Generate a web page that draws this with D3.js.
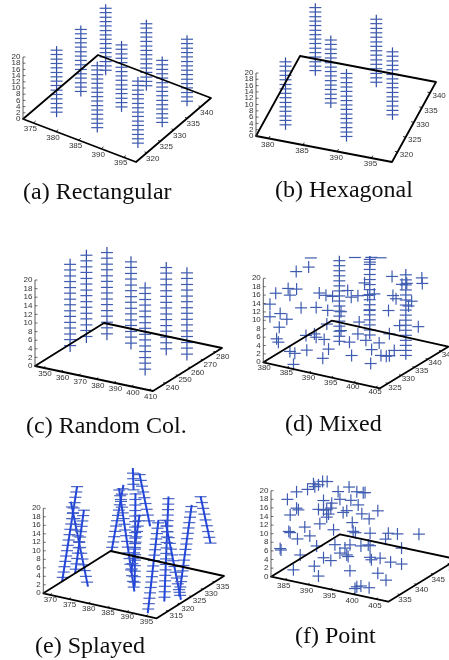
<!DOCTYPE html>
<html><head><meta charset="utf-8">
<script src="https://cdn.jsdelivr.net/npm/d3@7"></script>
<style>html,body{margin:0;padding:0;background:#fff;overflow:hidden}svg{display:block}</style>
</head><body><div id="chart"></div>
<script>
// ---------- data ----------
const zTicks = [0,2,4,6,8,10,12,14,16,18,20];

const rectXTicks = [375,380,385,390,395], rectYTicks = [320,325,330,335,340];
const rectColumns = [[377.5,320.4],[386.5,320.4],[395.5,320.4],[377.5,329.4],[386.5,329.4],[395.5,329.4],[377.5,338.6],[386.5,338.6],[395.5,338.6]];
const rectTop = 22.9;
const rectLevels = [1.6,3,4.4,5.9,7.3,8.7,10.2,11.6,13,14.4,15.9,17.3,18.7,20.2,21.6];

const hexXTicks = [380,385,390,395], hexYTicks = [320,325,330,335,340];
const hexColumns = [[381.6,320.2],[381.6,338.5],[386,329.5],[390.5,320.2],[390.5,338.5],[395,329.5]];
const hexTop = 23;
const hexLevels = [1.6,3,4.4,5.9,7.3,8.7,10.2,11.6,13,14.4,15.9,17.3,18.7,20.2,21.6];

const randXTicks = [350,360,370,380,390,400,410], randYTicks = [240,250,260,270,280];
const randColumns = [[350.7,250.4],[351.4,262.4],[358.3,269.1],[374.8,265.1],[398.5,243.1],[393.6,266.8],[406,265.9]];
const randTop = 21.7;
const randLevels = [1.5,2.9,4.2,5.6,6.9,8.3,9.6,11,12.3,13.7,15,16.4,17.7,19.1,20.4];

const mixedXTicks = [380,385,390,395,400,405], mixedYTicks = [325,330,335,340,345];
const mixedColumns = [[387.7,337.2,21.4],[391,343.1,19.8],[402.5,337.5,21.6]];
const mixedLevels = [1,2.2,3.4,4.6,5.8,7,8.2,9.4,10.6,11.8,13,14.2,15.4,16.6,17.8,19,20.2];
const mixedDashes = [[382.6,335,20.5],[385.3,347,16.6],[389,347,17.5],[391.1,347,17.9]];
const mixedPoints = [
[382.1,335,18.2],[379.9,334,17],[388.7,347,16.3],[400.9,335,20.4],[400.4,347,15.3],[400.5,347,14],[397,347,13.2],[395.9,347,12.7],
[394.7,335,17.4],[385.3,322,18.9],[387.2,322,19.2],[382.5,322,17.1],[385.7,322,17.4],[384.5,335,12.6],[386,335,12.4],[390.9,335,14.7],
[387.5,335,12.5],[391.7,335,13.3],[393.2,335,14],[395.4,335,14.6],[396.9,335,15.3],[401.1,335,15.9],[401.8,335,15.3],[398.1,347,9.2],
[381.2,322,14.2],[380.4,335,8.1],[383.8,335,9],[386.4,335,8.9],[389.4,335,9.3],[395.8,335,11.1],[400.1,335,12.1],[397.4,347,7.9],
[381.2,322,11.2],[383.5,322,12.5],[385,322,11.5],[383.3,322,9.2],[386.2,335,5.6],[393.5,335,7.8],[402.6,335,9.1],[399.6,347,3.5],
[382.7,322,6.3],[383.1,322,5.6],[381.5,335,1.8],[383.4,335,2.6],[383.8,335,1.9],[385.6,335,1.8],[389.4,335,4.8],[393.2,335,4.9],
[391.3,335,2.5],[395,335,3.8],[398,335,3.9],[400.3,335,6.6],[394.4,322,6.6],[389.5,322,5.2],[385.7,322,4],[386.8,322,3.8],
[396.3,335,1.9],[399.6,322,6.3],[393.1,322,4.1],[386.5,322,1.1],[403.9,322,5.4],[398.4,335,1],[400.3,335,1.4],[401.4,335,2.9],[399.6,335,1.1]];

const splayXTicks = [370,375,380,385,390,395], splayYTicks = [315,320,325,330,335];
// [x at bottom, y, z at bottom, x at top, z at top]
const splayColumns = [
[368.3,318.1,0,372.2,23.1],[374.85,318.4,0,370.4,19.1],[368.3,323.7,0,370.6,15.4],[368.6,338.9,0,371.7,16.3],
[385.3,321.1,0,381.3,23.5],[383.8,323.7,0,384,22],[379,330.1,0,381.2,14.2],[377.3,334,17.9,377.1,23],
[381.6,334,10.2,378.8,22.1],[394.5,311.6,0,397.3,22.5],[394.1,319.4,0,395.2,24.9],[396.8,322.1,0,392.7,18],
[395.4,323.6,0,398.7,22.2],[394.9,338,7.5,392.3,18]];
const splayLevels = [1,2.3,3.6,4.9,6.2,7.5,8.8,10.1,11.4,12.7,14,15.3,16.6,17.9,19.2,20.5,21.8,23.1,24.4];

const pointXTicks = [385,390,395,400,405], pointYTicks = [335,340,345,350];
const pointCloud = [
[385.6,331.5,18.8],[387.6,331.5,21],[382.7,341.5,15.7],[384,341.5,17.3],[384.3,341.5,16.7],[385.1,341.5,17.3],[386,341.5,18.3],[387,341.5,18.5],
[389.4,341.5,16.7],[391.8,341.5,18.3],[393.5,341.5,17.6],[394.9,341.5,17.7],[395.3,341.5,17.8],[386.2,341.5,13.9],[389.8,341.5,15],[392.2,341.5,15.3],
[388,341.5,13.7],[393.8,341.5,14.6],[387.6,331.5,17.2],[388,331.5,16.9],[386.2,331.5,15.3],[385.1,341.5,11.6],[386.2,341.5,11.7],[386.9,341.5,11.9],
[387.8,341.5,12.5],[390.5,341.5,12.1],[391.3,341.5,12.7],[394.6,341.5,12.7],[398.1,341.5,14.2],[386.9,341.5,10.2],[387.3,341.5,11],[396.2,341.5,11.9],
[392.5,341.5,10.2],[382.1,341.5,6.8],[385.4,341.5,8.3],[385.9,331.5,11.4],[386.2,331.5,11.2],[383.2,341.5,5],[387.8,331.5,10.1],[388.4,341.5,7.6],
[392.7,341.5,8.2],[393.2,341.5,8],[396.4,341.5,8.6],[400.4,341.5,9.5],[402.4,341.5,9.8],[399.8,351.5,4.4],[399.8,341.5,8],[384.7,341.5,3],
[388.7,341.5,4.2],[392,341.5,4.9],[394.4,341.5,5.2],[396,341.5,5.8],[396.4,341.5,5.7],[384,331.5,7],[384.2,331.5,6.7],[388.4,331.5,6.5],
[390.9,341.5,3.9],[389.8,341.5,2.5],[391.3,341.5,2.4],[391.6,341.5,2.1],[386.2,341.5,0.6],[387.8,341.5,0.3],[396.4,341.5,3],[398.6,341.5,3.3],
[396.7,341.5,2.5],[403.3,341.5,6.7],[400.9,341.5,2.9],[403.3,341.5,3],[391.5,331.5,4.6],[386.9,331.5,2.7],[399.3,331.5,5.3],[405.4,331.5,6.1],
[392.4,331.5,2.5],[407.2,331.5,4.9],[403.5,331.5,2.3],[401.7,331.5,2.3],[400.8,331.5,1.9],[400.4,331.5,1.4]];

// ---------- frames ----------
const panels = [
 {cap:"(a) Rectangular",capX:23,capY:199,L:[23,119],F:[136,162],R:[211,98],xd:[372.7,397.7],yd:[316,343.8],zH:62,xt:rectXTicks,yt:rectYTicks,xo:[-3,6],yo:[6,6],
  cols:rectColumns.map(c=>[c[0],c[1],rectTop]),lv:rectLevels},
 {cap:"(b) Hexagonal",capX:275,capY:197,L:[256,136],F:[392,162],R:[436,82],xd:[378.15,398],yd:[316.6,343.6],zH:63,xt:hexXTicks,yt:hexYTicks,xo:[-1,6],yo:[9,3],
  cols:hexColumns.map(c=>[c[0],c[1],hexTop]),lv:hexLevels},
 {cap:"(c) Random Col.",capX:26,capY:433,L:[35,366],F:[153,391],R:[222,348],xd:[345.3,412.3],yd:[230,285],zH:86,xt:randXTicks,yt:randYTicks,xo:[1.7,6.5],yo:[7,5],
  cols:randColumns.map(c=>[c[0],c[1],randTop]),lv:randLevels},
 {cap:"(d) Mixed",capX:285,capY:431,L:[263.3,362.3],F:[380,388.3],R:[448.3,346.7],xd:[379.7,406],yd:[322,347.6],zH:84,xt:mixedXTicks,yt:mixedYTicks,xo:[-.5,5],yo:[7,4],
  cols:mixedColumns,lv:mixedLevels,points:mixedPoints,dashes:mixedDashes},
 {cap:"(e) Splayed",capX:35,capY:653,L:[43.3,593.3],F:[156.7,618.3],R:[224,576],xd:[368.3,397.8],yd:[310,339],zH:85,xt:splayXTicks,yt:splayYTicks,xo:[.5,5.5],yo:[8,4.7],
  splay:splayColumns,lv:splayLevels},
 {cap:"(f) Point",capX:295,capY:643,L:[271,576.7],F:[388.3,601.7],R:[457.3,559.3],xd:[382,407.7],yd:[331.5,352.2],zH:86,xt:pointXTicks,yt:pointYTicks,xo:[-1,6.5],yo:[5,5.5],
  points:pointCloud}
];

// ---------- drawing ----------
const svg = d3.select("#chart").append("svg").attr("width",449).attr("height",660);
svg.append("defs").append("filter").attr("id","soft")
  .append("feGaussianBlur").attr("stdDeviation",0.3);
const root = svg.append("g").attr("filter","url(#soft)");

const MARK = "#3f5cb0", STEM = "#2f4ca6", HALF = 6;

panels.forEach(p=>{
  const g = root.append("g");
  const xs = d3.scaleLinear().domain(p.xd).range([0,1]);
  const ys = d3.scaleLinear().domain(p.yd).range([0,1]);
  const zs = d3.scaleLinear().domain([0,20]).range([0,p.zH]);
  const proj = (x,y,z)=>{
    const a=xs(x), b=ys(y);
    return [p.L[0]+a*(p.F[0]-p.L[0])+b*(p.R[0]-p.F[0]),
            p.L[1]+a*(p.F[1]-p.L[1])+b*(p.R[1]-p.F[1])-zs(z)];
  };
  const seg=(sel,rows,fn)=>sel.selectAll(null).data(rows).join("line")
    .attr("x1",d=>fn(d)[0]).attr("y1",d=>fn(d)[1]).attr("x2",d=>fn(d)[2]).attr("y2",d=>fn(d)[3]);

  // straight columns
  (p.cols||[]).forEach(c=>{
    const col=g.append("g");
    const b=proj(c[0],c[1],0), t=proj(c[0],c[1],c[2]);
    col.append("line").attr("x1",b[0]).attr("y1",b[1]).attr("x2",t[0]).attr("y2",t[1]).attr("stroke",STEM).attr("stroke-width",1.2);
    seg(col,p.lv.filter(z=>z<=c[2]),z=>{const q=proj(c[0],c[1],z);return [q[0]-HALF,q[1],q[0]+HALF,q[1]];})
      .attr("stroke",MARK).attr("stroke-width",1.2);
  });

  // splayed columns
  (p.splay||[]).forEach(c=>{
    const col=g.append("g");
    const xAt=d3.scaleLinear().domain([c[2],c[4]]).range([c[0],c[3]]);
    seg(col,p.lv.filter(z=>z>=c[2]&&z<=c[4]),z=>{const q=proj(xAt(z),c[1],z);return [q[0]-HALF,q[1],q[0]+HALF,q[1]];})
      .attr("stroke","#4a66c4").attr("stroke-width",1.2);
    const b=proj(c[0],c[1],c[2]), t=proj(c[3],c[1],c[4]);
    col.append("line").attr("x1",b[0]).attr("y1",b[1]).attr("x2",t[0]).attr("y2",t[1]).attr("stroke","#2245da").attr("stroke-width",2);
  });

  // scattered crosses
  if(p.points){
    seg(g,p.points,d=>{const q=proj(d[0],d[1],d[2]);return [q[0]-HALF,q[1],q[0]+HALF,q[1]];}).attr("stroke",MARK).attr("stroke-width",1.2);
    seg(g,p.points,d=>{const q=proj(d[0],d[1],d[2]);return [q[0],q[1]-HALF,q[0],q[1]+HALF];}).attr("stroke",MARK).attr("stroke-width",1.2);
  }
  if(p.dashes) seg(g,p.dashes,d=>{const q=proj(d[0],d[1],d[2]);return [q[0]-HALF,q[1],q[0]+HALF,q[1]];}).attr("stroke",MARK).attr("stroke-width",1.2);

  // floor
  const back=[p.L[0]+p.R[0]-p.F[0],p.L[1]+p.R[1]-p.F[1]];
  g.append("path").attr("d",d3.line()([p.L,p.F,p.R,back])+"Z").attr("fill","none").attr("stroke","#000").attr("stroke-width",1.8).attr("stroke-linejoin","round");

  // z axis
  const zTop=p.L[1]-p.zH;
  g.append("line").attr("x1",p.L[0]).attr("x2",p.L[0]).attr("y1",p.L[1]).attr("y2",zTop).attr("stroke","#333").attr("stroke-width",.8);
  seg(g,zTicks,z=>[p.L[0],p.L[1]-zs(z),p.L[0]+2.5,p.L[1]-zs(z)]).attr("stroke","#333").attr("stroke-width",.7);
  const txt=(rows,fx,fy,anchor)=>g.selectAll(null).data(rows).join("text")
    .attr("x",fx).attr("y",fy).attr("text-anchor",anchor).attr("dominant-baseline","middle")
    .attr("font-family","Liberation Sans").attr("font-size",8).attr("fill","#333").text(d=>d);
  txt(zTicks,()=>p.L[0]-2.5,z=>p.L[1]-zs(z),"end");

  // floor ticks and labels
  const y0=p.yd[0], x1=p.xd[1];
  const inX=(p.R[0]-p.F[0])*0.03, inY=(p.R[1]-p.F[1])*0.03;
  seg(g,p.xt,x=>{const q=proj(x,y0,0);return [q[0],q[1],q[0]+inX,q[1]+inY];}).attr("stroke","#000").attr("stroke-width",.8);
  txt(p.xt,x=>proj(x,y0,0)[0]+p.xo[0],x=>proj(x,y0,0)[1]+p.xo[1],"middle");
  const jX=(p.L[0]-p.F[0])*0.02, jY=(p.L[1]-p.F[1])*0.02;
  seg(g,p.yt,y=>{const q=proj(x1,y,0);return [q[0],q[1],q[0]+jX,q[1]+jY];}).attr("stroke","#000").attr("stroke-width",.8);
  txt(p.yt,y=>proj(x1,y,0)[0]+p.yo[0],y=>proj(x1,y,0)[1]+p.yo[1],"middle");

  // caption
  g.append("text").attr("x",p.capX).attr("y",p.capY).attr("font-family","Liberation Serif").attr("font-size",24).attr("fill","#111").text(p.cap);
});
</script></body></html>
